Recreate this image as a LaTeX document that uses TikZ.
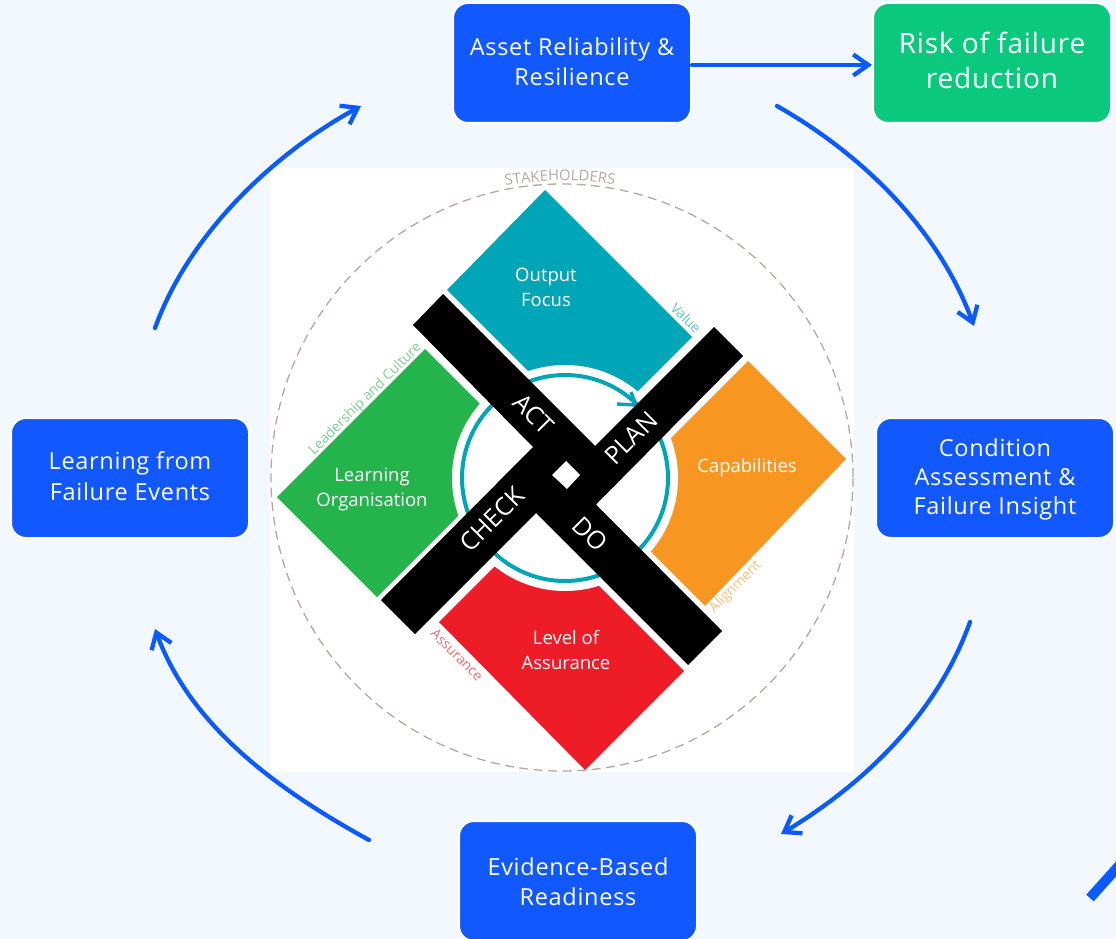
\documentclass[tikz,border=0pt]{standalone}
\usepackage{fontspec}
\setmainfont{Open Sans}
\newfontfamily\boxfont[LetterSpace=3]{Open Sans}
\usetikzlibrary{arrows.meta,decorations.text}
\definecolor{bgc}{HTML}{F3F8FF}
\definecolor{boxblue}{HTML}{1158FE}
\definecolor{arrowblue}{HTML}{0A5AFF}
\definecolor{riskgreen}{HTML}{0AC97F}
\definecolor{tealc}{HTML}{00A5B8}
\definecolor{orangec}{HTML}{F79621}
\definecolor{greenc}{HTML}{25B34B}
\definecolor{redc}{HTML}{ED1C26}
\definecolor{dashc}{HTML}{BBA5A3}
\newcommand{\boxtext}[2]{\raisebox{#1}[\height][\depth]{\parbox{232pt}{\centering #2}}}
\tikzset{
  x=1pt,y=-1pt,
  flowbox/.style={draw=white,line width=2pt,fill=boxblue,rounded corners=15pt,minimum width=238pt,minimum height=120pt,text=white,align=center,inner sep=0pt,font=\boxfont\fontsize{23.5}{30}\selectfont},
  flow/.style={draw=arrowblue,line width=4.3pt,-{Straight Barb[length=15pt,width=21pt,line width=4.3pt]},line cap=round},
  petal/.style={white,align=center,font=\fontsize{18.5}{25}\selectfont},
  pdca/.style={white,font=\fontsize{25}{25}\selectfont},
  tag/.style={font=\fontsize{14}{14}\selectfont},
}
\begin{document}
\begin{tikzpicture}
\useasboundingbox (0,0) rectangle (1116,939);
\clip (0,0) rectangle (1116,939);
\fill[bgc] (0,0) rectangle (1116,939);
\fill[white] (270,168) rectangle (854,772);
\draw[dashc,line width=1.3pt,dash pattern=on 9pt off 5.5pt] (562,477.5) ellipse [x radius=291,y radius=293.5];
\fill[tealc] (545,190) -- (692,337) -- (593,436) -- (447,290) -- cycle;
\fill[orangec] (748,361) -- (846,459) -- (705,606) -- (604,505) -- cycle;
\fill[greenc] (425,349) -- (525,449) -- (377,597) -- (277,497) -- cycle;
\fill[redc] (439,622) -- (537,524) -- (684,671) -- (585,770) -- cycle;
\fill[white] (565,478) circle [radius=113];
\draw[tealc,line width=4pt] (565,478) circle [radius=103];
\draw[tealc,line width=3.4pt] (617,404) -- (636,405) -- (631,392);
\fill[black] (413,325) -- (443,294) -- (595,446) -- (714,327) -- (743,356) -- (596,504.5) -- (722,631) -- (688,665) -- (536,513) -- (415,634) -- (381,600) -- (533,447) -- cycle;
\fill[white] (566,461) -- (580,475) -- (567,489) -- (552,475) -- cycle;
\node[petal] (output) at (546,287) {Output\\Focus};
\node[petal] (capab) at (747,468) {Capabilities};
\node[petal] (learnorg) at (372,489) {Learning\\Organisation};
\node[petal] (level) at (566,650) {Level of\\Assurance};
\node[pdca,rotate=-45] (act) at (534,414) {ACT};
\node[pdca,rotate=45] (plan) at (631,438) {PLAN};
\node[pdca,rotate=45] (check) at (492,519) {CHECK};
\node[pdca,rotate=-45] (do) at (590,534) {DO};
\node[tag,text=greenc!60!white,rotate=45] (lead) at (365.5,399) {Leadership and Culture};
\node[tag,text=tealc!65!white,rotate=-45] (value) at (686,318) {Value};
\node[tag,text=redc!65!white,rotate=-45] (assur) at (457,655) {Assurance};
\node[tag,text=orangec!60!white,rotate=45] (align) at (735.5,587) {Alignment};
\path[postaction={decorate},decoration={text along path,text align=center,text={|\fontsize{14.8}{14.8}\selectfont\color{dashc}|STAKEHOLDERS}}]
  (458.5,199.1) arc [start angle=249.6,end angle=289.6,radius=297];
\node[flowbox] (asset) at (572,63) {\boxtext{1pt}{Asset Reliability \&\\Resilience}};
\node[flowbox,fill=riskgreen,font=\boxfont\fontsize{28}{35}\selectfont] (risk) at (992,63) {\boxtext{3pt}{Risk of failure\\reduction}};
\node[flowbox] (cond) at (995,478) {\boxtext{-1.5pt}{Condition\\[-1pt]Assessment \&\\[-1pt]Failure Insight}};
\node[flowbox] (learn) at (130,478) {\boxtext{2pt}{Learning from\\[1pt]Failure Events}};
\node[flowbox] (evid) at (578,881) {\boxtext{-1pt}{Evidence-Based\\Readiness}};
\coordinate (a1) at (777,106); \coordinate (a2) at (974,326);
\coordinate (b1) at (970,622); \coordinate (b2) at (781,834);
\coordinate (c1) at (369,840); \coordinate (c2) at (155,629);
\coordinate (d1) at (155,328); \coordinate (d2) at (361,106);
\draw[flow] ([yshift=-2pt]asset.east) -- ([yshift=-2pt]risk.west);
\draw[flow] (a1) .. controls (865,156) and (939,231) .. (a2);
\draw[flow] (b1) .. controls (937,714) and (865,783) .. (b2);
\draw[flow] (c1) .. controls (278,790) and (191,727) .. (c2);
\draw[flow] (d1) .. controls (189,234) and (273,154) .. (d2);
\coordinate (s1) at (1090,898); \coordinate (s2) at (1125,859);
\draw[arrowblue,line width=10pt] (s1) -- (s2);
\end{tikzpicture}
\end{document}
